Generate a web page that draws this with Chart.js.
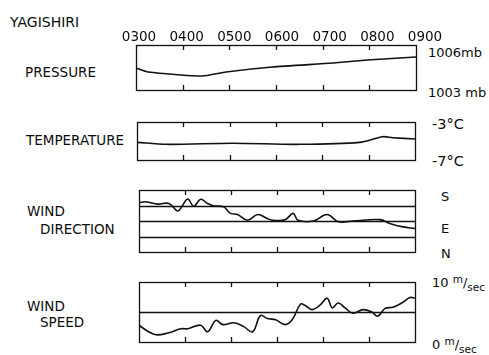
<!DOCTYPE html>
<html><head><meta charset="utf-8">
<script src="https://cdn.jsdelivr.net/npm/chart.js@4/dist/chart.umd.min.js"></script>
<style>
body{margin:0;background:#fff;width:489px;height:355px;overflow:hidden;position:relative;font-family:"DejaVu Sans",sans-serif;color:#0c0c0c}
canvas{position:absolute}
.t{position:absolute;white-space:nowrap;line-height:1}
.u sup{font-size:10.5px;position:relative;top:-2px;vertical-align:top}
</style></head><body>
<div class="t" style="left:10px;top:15px;font-size:14px">YAGISHIRI</div>
<div class="t" style="left:25px;top:66px;font-size:13.5px">PRESSURE</div>
<div class="t" style="left:26px;top:134px;font-size:13.5px">TEMPERATURE</div>
<div class="t" style="left:27px;top:205px;font-size:13.5px">WIND</div>
<div class="t" style="left:40px;top:223px;font-size:13.5px">DIRECTION</div>
<div class="t" style="left:27px;top:300px;font-size:13.5px">WIND</div>
<div class="t" style="left:40px;top:316px;font-size:13.5px">SPEED</div>
<div class="t" style="left:428px;top:46px;font-size:13px">1006mb</div>
<div class="t" style="left:428px;top:86px;font-size:13px">1003 mb</div>
<div class="t" style="left:432px;top:117px;font-size:14.5px">-3°C</div>
<div class="t" style="left:432px;top:154px;font-size:14.5px">-7°C</div>
<div class="t" style="left:441px;top:190px;font-size:13px">S</div>
<div class="t" style="left:441px;top:222px;font-size:13px">E</div>
<div class="t" style="left:441px;top:247px;font-size:13px">N</div>
<div class="t u" style="left:432px;top:276px;font-size:13px">10 <sup>m</sup>/<span style="font-size:10.5px;position:relative;top:4px">sec</span></div>
<div class="t u" style="left:432px;top:338px;font-size:13px">0 <sup>m</sup>/<span style="font-size:10.5px;position:relative;top:4px">sec</span></div>
<canvas id="cP"></canvas><canvas id="cT"></canvas><canvas id="cD"></canvas><canvas id="cS"></canvas>
<script>
const timeTicks = [3,4,5,6,7,8,9];
const tickLabels = ['0300','0400','0500','0600','0700','0800','0900'];

const pressureTime = [3.0,3.26,4.41,4.93,5.92,7.22,7.96,9.0];
const pressureMb   = [1004.47,1004.2,1003.93,1004.2,1004.53,1004.8,1005.0,1005.2];

const tempTime = [3.0,3.63,5.06,6.5,7.8,8.3,8.52,9.0];
const tempC    = [-5.14,-5.35,-5.24,-5.35,-5.14,-4.55,-4.65,-4.79];

const dirTime = [3.0,3.15,3.41,3.65,3.84,3.95,4.06,4.19,4.34,4.49,4.62,4.84,4.99,5.14,5.36,5.58,5.79,5.92,6.18,6.35,6.46,6.79,7.09,7.33,7.65,8.24,8.45,8.74,9.0];
const dirDeg  = [143,146,139,141,119,136,154,133,153,141,134,131,112,109,92,109,97,92,94,112,92,90,109,88,90,94,83,73,68];

const speedTime = [3.0,3.19,3.37,3.63,3.91,4.06,4.34,4.49,4.67,4.82,5.06,5.27,5.47,5.64,5.79,5.97,6.18,6.33,6.51,6.61,6.77,6.94,7.09,7.2,7.33,7.48,7.65,7.87,8.06,8.19,8.35,8.52,8.71,8.89,9.0];
const speedMs   = [2.8,1.8,1.2,1.5,2.2,2.2,2.8,1.7,3.6,2.9,3.2,2.6,1.7,4.4,3.9,3.7,2.9,3.7,6.3,6.1,5.4,6.2,7.3,5.7,6.5,5.7,4.8,5.4,5.0,4.3,5.6,5.8,6.5,7.4,7.3];

const INK = '#111111';
const PAD = 3;

const framePlugin = {
  id: 'frame',
  beforeDatasetsDraw(chart, args, opts) {
    const {ctx, chartArea: a, scales} = chart;
    ctx.save();
    ctx.strokeStyle = INK; ctx.lineWidth = 1.3;
    (opts.hLines || []).forEach(v => {
      const y = Math.round(scales.y.getPixelForValue(v)) + 0.5;
      ctx.beginPath(); ctx.moveTo(a.left, y); ctx.lineTo(a.right, y); ctx.stroke();
    });
    ctx.strokeRect(Math.round(a.left)+0.5, Math.round(a.top)+0.5, Math.round(a.right-a.left), Math.round(a.bottom-a.top));
    timeTicks.slice(1, -1).forEach(t => {
      const x = Math.round(scales.x.getPixelForValue(t)) + 0.5;
      ctx.beginPath(); ctx.moveTo(x, a.top); ctx.lineTo(x, a.top + 5); ctx.stroke();
      ctx.beginPath(); ctx.moveTo(x, a.bottom); ctx.lineTo(x, a.bottom - 5); ctx.stroke();
    });
    ctx.restore();
  }
};

function makePanel(id, rect, times, vals, yMin, yMax, hLines, tension) {
  const cv = document.getElementById(id);
  cv.style.left = (rect[0] - PAD) + 'px';
  cv.style.top = (rect[1] - PAD) + 'px';
  cv.style.width = (rect[2] + 2*PAD) + 'px';
  cv.style.height = (rect[3] + 2*PAD) + 'px';
  cv.width = rect[2] + 2*PAD; cv.height = rect[3] + 2*PAD;
  return new Chart(cv, {
    type: 'line',
    data: { datasets: [{
      data: times.map((t, i) => ({x: t, y: vals[i]})),
      borderColor: INK, borderWidth: 1.6, pointRadius: 0, tension: tension, fill: false
    }]},
    options: {
      responsive: false, animation: false, devicePixelRatio: 1,
      layout: { padding: PAD },
      plugins: { legend: {display: false}, tooltip: {enabled: false}, frame: { hLines } },
      scales: {
        x: { type: 'linear', min: 3, max: 9, display: false },
        y: { min: yMin, max: yMax, display: false }
      }
    },
    plugins: [framePlugin]
  });
}

const P = makePanel('cP', [136, 45, 280, 45], pressureTime, pressureMb, 1003, 1006, [], 0.2);
makePanel('cT', [137, 122, 278, 38], tempTime, tempC, -7, -3, [], 0.3);
makePanel('cD', [139, 190, 276, 62], dirTime, dirDeg, 0, 180, [45, 90, 135], 0.4);
makePanel('cS', [139, 282, 276, 60], speedTime, speedMs, 0, 10, [5], 0.4);

timeTicks.forEach((t, i) => {
  const d = document.createElement('div');
  d.className = 't';
  d.textContent = tickLabels[i];
  d.style.fontSize = '13.5px';
  d.style.top = '30px';
  d.style.left = (136 - PAD + P.scales.x.getPixelForValue(t) + 3 + i) + 'px';
  d.style.transform = 'translateX(-50%)';
  document.body.appendChild(d);
});
</script>
</body></html>
